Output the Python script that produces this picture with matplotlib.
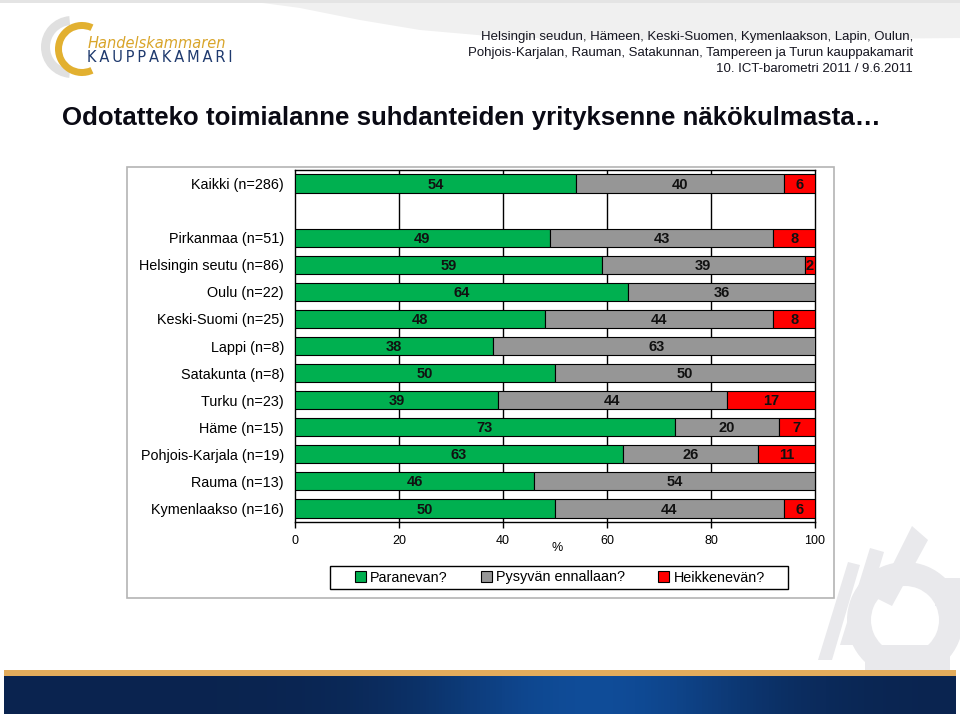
import numpy as np
import matplotlib
matplotlib.use("Agg")
import matplotlib.pyplot as plt
from matplotlib import patches

plt.rcParams['font.family'] = ['Liberation Sans', 'DejaVu Sans']

# data (percent)
categories = ['Kaikki (n=286)', 'Pirkanmaa (n=51)', 'Helsingin seutu (n=86)', 'Oulu (n=22)',
              'Keski-Suomi (n=25)', 'Lappi (n=8)', 'Satakunta (n=8)', 'Turku (n=23)',
              'Häme (n=15)', 'Pohjois-Karjala (n=19)', 'Rauma (n=13)', 'Kymenlaakso (n=16)']
paranevan = [54, 49, 59, 64, 48, 38, 50, 39, 73, 63, 46, 50]
pysyvan = [40, 43, 39, 36, 44, 63, 50, 44, 20, 26, 54, 44]
heikkenevan = [6, 8, 2, 0, 8, 0, 0, 17, 7, 11, 0, 6]
series_names = ['Paranevan?', 'Pysyvän ennallaan?', 'Heikkenevän?']
colors = ['#00B050', '#969696', '#FF0000']
x_ticks = [0, 20, 40, 60, 80, 100]

title = 'Odotatteko toimialanne suhdanteiden yrityksenne näkökulmasta…'
header = ['Helsingin seudun, Hämeen, Keski-Suomen, Kymenlaakson, Lapin, Oulun,',
          'Pohjois-Karjalan, Rauman, Satakunnan, Tampereen ja Turun kauppakamarit',
          '10. ICT-barometri 2011 / 9.6.2011']

fig = plt.figure(figsize=(9.6, 7.16), dpi=100)

# --- background decorations in pixel coordinates ---
bg = fig.add_axes([0, 0, 1, 1], zorder=0)
bg.set_xlim(0, 960)
bg.set_ylim(716, 0)
bg.axis('off')

# grey swoosh at top
sw_x = [240, 300, 360, 420, 500, 600, 750, 960, 960]
sw_y = [0, 8, 20, 30, 37, 40, 40, 38, 0]
bg.add_patch(patches.Polygon(list(zip(sw_x, sw_y)), closed=True, fc='#f0f0f0', ec='none'))
bg.add_patch(patches.Rectangle((0, 0), 960, 3, fc='#e4e4e4', ec='none'))

# logo
bg.add_patch(patches.Wedge((72, 47), 31, 95, 265, width=9, fc='#e0e0e0', ec='none'))
bg.add_patch(patches.Wedge((82, 49), 27, 65, 295, width=7, fc='#E2B030', ec='none'))
bg.text(88, 43, 'Handelskammaren', color='#D9A52A', fontsize=10.5, style='italic',
        ha='left', va='center', family='DejaVu Sans')
bg.text(87, 58, '\u2009'.join('KAUPPAKAMARI'), color='#1F3A6E', fontsize=10.5,
        ha='left', va='center', family='DejaVu Sans')

# header text
for i, line in enumerate(header):
    bg.text(913, 37 + i * 16, line, ha='right', va='center', fontsize=9.5, color='#151520')

# title
bg.text(62, 118, title, ha='left', va='center', fontsize=18.6, fontweight='bold', color='#0a0a14')

# watermark (wing + gear)
wm = '#e9e9ec'
bg.add_patch(patches.Wedge((905, 620), 58, 0, 360, width=24, fc=wm, ec='none'))
bg.add_patch(patches.Polygon([(915, 592), (930, 610), (915, 628), (900, 610)], fc='white', ec='none'))
bg.add_patch(patches.Polygon([(818, 660), (848, 562), (860, 565), (832, 660)], fc=wm, ec='none'))
bg.add_patch(patches.Polygon([(840, 645), (870, 548), (884, 552), (856, 645)], fc=wm, ec='none'))
bg.add_patch(patches.Polygon([(876, 598), (912, 526), (928, 540), (892, 606)], fc=wm, ec='none'))
bg.add_patch(patches.Rectangle((935, 578), 25, 28, fc=wm, ec='none'))
bg.add_patch(patches.Rectangle((865, 645), 85, 27, fc=wm, ec='none'))

# footer bands
bg.add_patch(patches.Rectangle((4, 670), 952, 6, fc='#E3AC5C', ec='none'))
grad = np.exp(-((np.linspace(0, 1, 300) - 0.62) / 0.18) ** 2)
navy = np.array([0.04, 0.14, 0.31])
blue = np.array([0.06, 0.30, 0.60])
img = navy[None, None, :] + grad[None, :, None] * (blue - navy)[None, None, :]
bg.imshow(img, extent=(4, 956, 714, 676), aspect='auto', zorder=1)

# chart frame
fig.patches.append(patches.Rectangle((127 / 960, 1 - 598 / 716), (834 - 127) / 960, (598 - 167) / 716,
                                     transform=fig.transFigure, fc='white', ec='#b4b4b4', lw=1.2,
                                     zorder=0.5))

# --- chart ---
ax = fig.add_axes([295 / 960, 1 - 522 / 716, 520 / 960, 352 / 716], zorder=2)
ypos = [0] + list(range(2, len(categories) + 1))
bar_h = 0.67
data = [paranevan, pysyvan, heikkenevan]
left = np.zeros(len(categories))
for vals, name, col in zip(data, series_names, colors):
    vals = np.array(vals, dtype=float)
    ax.barh(ypos, vals, left=left, height=bar_h, color=col, edgecolor='black', lw=0.8,
            label=name, zorder=3)
    for y, l, v in zip(ypos, left, vals):
        if v > 0:
            ax.text(l + v / 2, y + 0.04, f'{int(v)}', ha='center', va='center', fontsize=10.5,
                    fontweight='bold', color='#111111', zorder=4)
    left += vals

ax.set_xlim(0, 100)
ax.set_ylim(len(categories) + 0.5, -0.5)
ax.set_yticks(ypos)
ax.set_yticklabels(categories, fontsize=10.4)
ax.tick_params(axis='y', length=0, pad=8)
ax.set_xticks(x_ticks)
ax.set_xticklabels([str(t) for t in x_ticks], fontsize=9)
ax.tick_params(axis='x', direction='out', length=4, width=1, pad=5)
for x in x_ticks[1:-1]:
    ax.axvline(x, color='black', lw=1, zorder=1)
for s in ax.spines.values():
    s.set_color('black')
    s.set_linewidth(1)
fig.text(557 / 960, 1 - 548 / 716, '%', fontsize=9, ha='center', va='center')

# legend with a fixed box like the reference
fig.patches.append(patches.Rectangle((330 / 960, 1 - 589 / 716), 458 / 960, 23 / 716,
                                     transform=fig.transFigure, fc='white', ec='black', lw=1,
                                     zorder=1))
leg = ax.legend(loc='center', bbox_to_anchor=(560 / 960, 1 - 577.5 / 716), bbox_transform=fig.transFigure,
                ncol=3, frameon=False, fontsize=10.4,
                handlelength=0.75, handleheight=0.75, handletextpad=0.3, columnspacing=2.3,
                borderpad=0.2)

fig.savefig('out.png', dpi=100)
